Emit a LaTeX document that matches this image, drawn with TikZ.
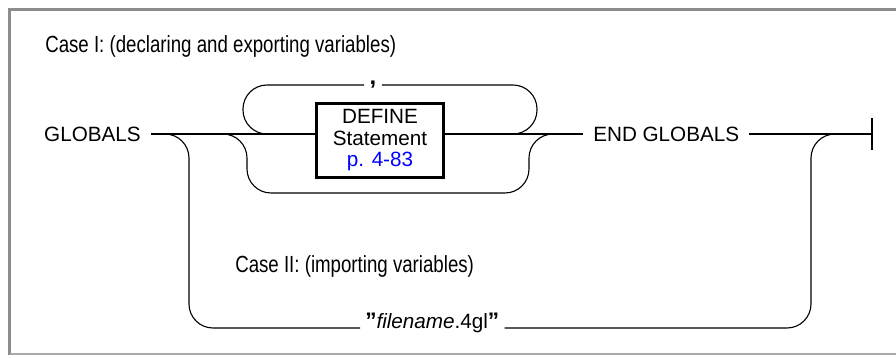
\documentclass[tikz,border=0pt]{standalone}
\usepackage{fontspec}
\setmainfont{Liberation Sans}
\newfontfamily\condfont[FakeStretch=0.8]{Liberation Sans}
\usetikzlibrary{positioning}
\definecolor{linkblue}{HTML}{0000FF}
\definecolor{framegray}{HTML}{8C8C8C}

\begin{document}
\begin{tikzpicture}[
        x=0.025cm, y=-0.025cm,
        font=\fontsize{14.7}{15.3}\selectfont,
        rail/.style={draw=black, line width=0.8pt, rounded corners=0.6cm},
        kw/.style={inner xsep=0.25cm, inner ysep=0pt},
        stmt/.style={draw=black, line width=2pt, align=center,
                     minimum width=3.18cm, minimum height=1.85cm, inner sep=0pt},
        casetext/.style={font=\condfont\fontsize{16.6}{18}\selectfont,
                         inner sep=0pt, anchor=base west},
        frame/.style={draw=framegray, line width=2.2pt}
    ]
      \useasboundingbox (0,0) rectangle (896,357);

      % --- Frame ---
      \draw[frame] (896,9.5) -- (9.5,9.5) -- (9.5,355);
      \draw[frame, draw=framegray!75, line width=1.6pt] (9.5,354) -- (896,354);

      % --- Headings ---
      \node[casetext] (case1) at (45,52) {Case I: (declaring and exporting variables)};
      \node[casetext] (case2) at (235,272) {Case II: (importing variables)};

      % --- Keywords and statement box ---
      \node[kw, anchor=east] (globals) at (151,134) {GLOBALS};
      \node[stmt] (define) at (380,140.5) {DEFINE\\Statement\\\textcolor{linkblue}{p. 4-83}};
      \node[kw, anchor=west] (endg) at (583,134) {END GLOBALS};
      \node[inner xsep=0.13cm, inner ysep=0pt, font=\bfseries\fontsize{17}{17}\selectfont] (comma) at (373,85) {,};
      \node[kw, inner xsep=0.125cm, anchor=base west] (fname) at (360,328)
        {{\bfseries\fontsize{16}{16}\selectfont\symbol{34}}\textit{filename}.4gl{\bfseries\fontsize{16}{16}\selectfont\symbol{34}}};

      % Junctions on the main line
      \coordinate (j1) at (165,134);
      \coordinate (j2) at (222,134);
      \coordinate (j3) at (267,134);
      \coordinate (j4) at (513,134);
      \coordinate (j5) at (553,134);
      \coordinate (j6) at (835,134);
      \coordinate (stop) at (872,134);

      % Bends
      \coordinate (loopL) at (243,85);
      \coordinate (loopR) at (537,85);
      \coordinate (byL) at (247,193);
      \coordinate (byR) at (529,193);
      \coordinate (c2L) at (189,328);
      \coordinate (c2R) at (811,328);

      % --- Main line ---
      \draw[rail] (globals.east) -- (globals.east -| define.west);
      \draw[rail] (define.east |- endg.west) -- (endg.west);
      \draw[rail] (endg.east) -- (stop);
      \draw[rail] ([yshift=0.4cm]stop) -- ([yshift=-0.4cm]stop);

      % Repeat loop with comma
      \draw[rail] (j4) -| (loopR) -- (loopR -| comma.east);
      \draw[rail] (comma.west |- loopL) -- (loopL) |- (j3);

      % Bypass of the DEFINE statement
      \draw[rail] (j2) -| (byL) -- (byR) |- (j5);

      % Case II branch
      \draw[rail] (j1) -| (c2L) -- (fname.base west);
      \draw[rail] (fname.base east) -- (c2R) |- (j6);
    \end{tikzpicture}
\end{document}
